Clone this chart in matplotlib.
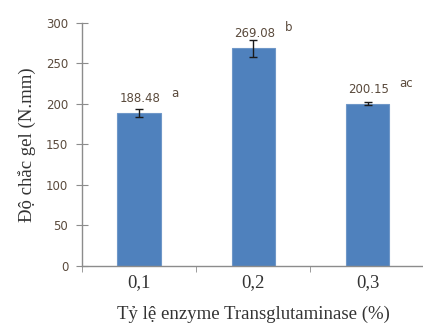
import numpy as np
import matplotlib
matplotlib.use("Agg")
import matplotlib.pyplot as plt

# gel strength vs. transglutaminase ratio
ratios = ["0,1", "0,2", "0,3"]
strength = [188.48, 269.08, 200.15]
sd = [5.0, 10.5, 2.0]
groups = ["a", "b", "ac"]

bar_col = "#4f81bd"
txt_col = "#5a4a3c"
axis_col = "#8c8c8c"

fig = plt.figure(figsize=(4.23, 3.28), dpi=100)
ax = fig.add_axes([0.194, 0.189, 0.81, 0.741])

x = np.arange(len(ratios))
ax.bar(x, strength, width=0.38, color=bar_col, edgecolor="#6f97c8", linewidth=0.8, zorder=2)
ax.errorbar(x, strength, yerr=sd, fmt="none", ecolor="#1a1a1a", elinewidth=1.0,
            capsize=3, capthick=1.0, zorder=3)

for i in range(len(x)):
    ax.text(x[i] + 0.01, strength[i] + 10, "%.2f" % strength[i], ha="center", va="bottom",
            fontsize=8.5, color=txt_col, family="DejaVu Sans")
    ax.text(x[i] + 0.28, strength[i] + 17, groups[i], ha="left", va="bottom",
            fontsize=8.5, color=txt_col, family="DejaVu Sans")

ax.set_xlim(-0.5, 2.5)
ax.set_ylim(0, 300)
ax.set_yticks(np.arange(0, 301, 50))
ax.set_xticks(x)
ax.set_xticklabels(ratios, family="Liberation Serif", fontsize=13.5, color="#333333")
ax.set_xticks([-0.5, 0.5, 1.5, 2.5], minor=True)
ax.tick_params(axis="x", which="major", length=0, pad=6)
ax.tick_params(axis="x", which="minor", length=4, direction="out", color=axis_col)
ax.tick_params(axis="y", length=8, direction="inout", color=axis_col, labelsize=8.5,
               labelcolor=txt_col, pad=6)

for side in ["top", "right"]:
    ax.spines[side].set_visible(False)
for side in ["left", "bottom"]:
    ax.spines[side].set_color(axis_col)
    ax.spines[side].set_linewidth(1.0)

ax.set_ylabel("Độ chắc gel (N.mm)", family="Liberation Serif", fontsize=13.5, color="#333333", labelpad=7)
ax.set_xlabel("Tỷ lệ enzyme Transglutaminase (%)", family="Liberation Serif", fontsize=13.5,
              color="#333333", labelpad=10)

fig.savefig("out.png", dpi=100)
